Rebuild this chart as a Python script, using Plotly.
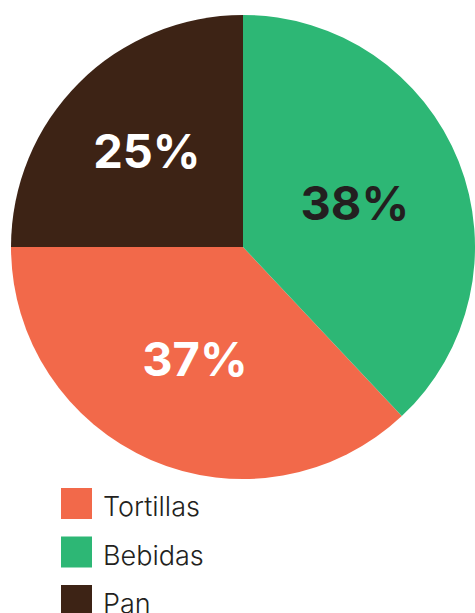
import plotly.graph_objects as go

# Share of spending by category
labels = ["Tortillas", "Bebidas", "Pan"]
values = [37, 38, 25]
colors = ["#F2694A", "#2DB775", "#3D2315"]
text_colors = ["#FFFFFF", "#231F20", "#FFFFFF"]

W, H = 475, 613

# First slice ends at 9 o'clock; slices run counterclockwise from there
rotation = 270 - 360 * values[0] / sum(values)

fig = go.Figure(
    go.Pie(
        labels=labels,
        values=values,
        sort=False,
        direction="counterclockwise",
        rotation=rotation,
        marker=dict(colors=colors, line=dict(width=0)),
        textinfo="percent",
        texttemplate="%{percent:.0%}",
        textposition="inside",
        insidetextorientation="horizontal",
        insidetextfont=dict(family="Inter", size=47, color=text_colors, weight=700),
        domain=dict(x=[11 / W, 1.0], y=[(H - 479) / H, (H - 15) / H]),
        showlegend=False,
        hoverinfo="label+percent",
    )
)

# Legend drawn as squares and labels below the pie
legend_top = 488
row_step = 48.5
sq = 31
for i, (lab, col) in enumerate(zip(labels, colors)):
    y0 = legend_top + i * row_step
    fig.add_shape(
        type="rect", xref="paper", yref="paper",
        x0=61 / W, x1=(61 + sq) / W,
        y0=1 - (y0 + sq) / H, y1=1 - y0 / H,
        fillcolor=col, line=dict(width=0),
    )
    fig.add_annotation(
        text=lab, xref="paper", yref="paper",
        x=101 / W, y=1 - (y0 + sq / 2 + 3) / H,
        xanchor="left", yanchor="middle", showarrow=False,
        font=dict(family="Inter", size=27, color="#231F20", weight=300),
    )

fig.update_layout(
    width=W, height=H,
    margin=dict(l=0, r=0, t=0, b=0),
    paper_bgcolor="white",
    plot_bgcolor="white",
)

fig.write_html("out.html")
